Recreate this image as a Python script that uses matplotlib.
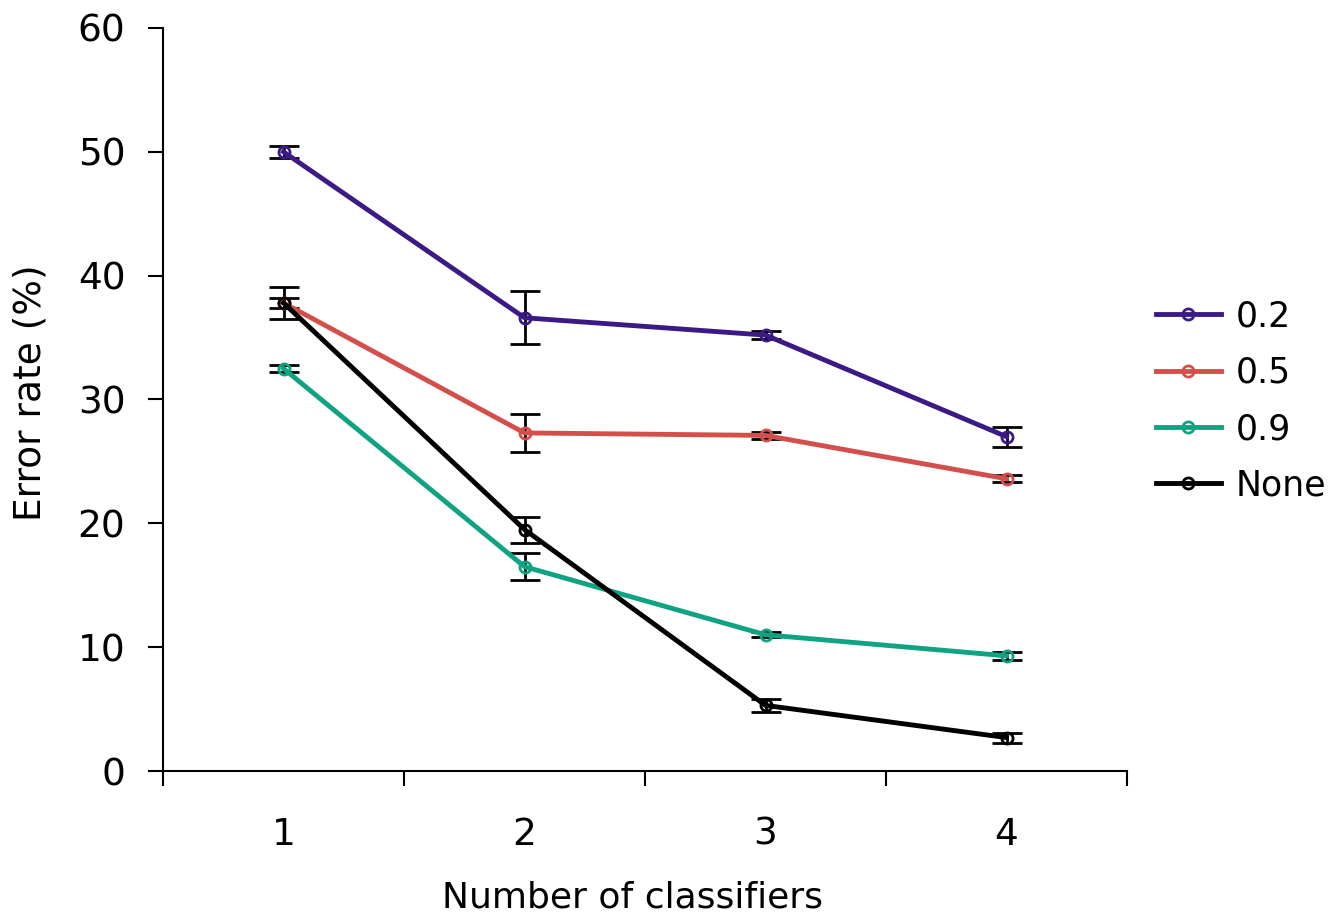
import numpy as np
import matplotlib
matplotlib.use('Agg')
import matplotlib.pyplot as plt

# Data
classifiers = [1, 2, 3, 4]
labels = ['0.2', '0.5', '0.9', 'None']
err_02 = [50.0, 36.6, 35.2, 27.0]
sd_02 = [0.5, 2.15, 0.3, 0.8]
err_05 = [37.8, 27.3, 27.1, 23.6]
sd_05 = [0.4, 1.5, 0.3, 0.3]
err_09 = [32.5, 16.5, 11.0, 9.3]
sd_09 = [0.3, 1.1, 0.2, 0.3]
err_none = [37.8, 19.5, 5.3, 2.7]
sd_none = [1.3, 1.05, 0.55, 0.4]
colors = ['#3c1a86', '#d44f4c', '#0fa382', '#000000']

plt.rcParams['font.family'] = ['DejaVu Sans']

fig = plt.figure(figsize=(13.3, 9.13), dpi=100)
ax = fig.add_axes([163 / 1330, 1 - 771 / 913, (1127 - 163) / 1330, (771 - 28) / 913])

series = [(err_02, sd_02), (err_05, sd_05), (err_09, sd_09), (err_none, sd_none)]
for (vals, sds), lab, col in zip(series, labels, colors):
    ax.errorbar(classifiers, vals, yerr=sds, fmt='none', ecolor='black',
                elinewidth=2, capsize=10.5, capthick=2, zorder=2)
    ax.plot(classifiers, vals, color=col, linewidth=3.5, marker='o', markersize=8,
            markerfacecolor='none', markeredgecolor=col, markeredgewidth=2,
            label=lab, zorder=3)

ax.set_xlim(0.5, 4.5)
ax.set_ylim(0, 60)
ax.set_yticks(np.arange(0, 61, 10))
ax.set_xticks([0.5, 1.5, 2.5, 3.5, 4.5])
ax.set_xticklabels([])
ax.set_xticks(classifiers, minor=True)
ax.set_xticklabels([str(c) for c in classifiers], minor=True)
ax.tick_params(axis='x', which='minor', length=0, pad=33, labelsize=27)
ax.tick_params(axis='x', which='major', direction='out', length=11, width=1.5)
ax.tick_params(axis='y', direction='out', length=11, width=1.5, labelsize=27, pad=16)

for s in ['top', 'right']:
    ax.spines[s].set_visible(False)
for s in ['left', 'bottom']:
    ax.spines[s].set_linewidth(1.5)

ax.set_xlabel('Number of classifiers', fontsize=26)
ax.set_ylabel('Error rate (%)', fontsize=27)
ax.xaxis.set_label_coords((632 - 163) / 964, -0.148)
ax.yaxis.set_label_coords(-0.119, (771 - 393) / 743)

ax.legend(loc='center left', bbox_to_anchor=(1.03, 0.498), frameon=False,
          borderpad=0, borderaxespad=0,
          fontsize=25, handlelength=1.87, handletextpad=0.43, labelspacing=0.64)

fig.savefig('out.png', dpi=100)
